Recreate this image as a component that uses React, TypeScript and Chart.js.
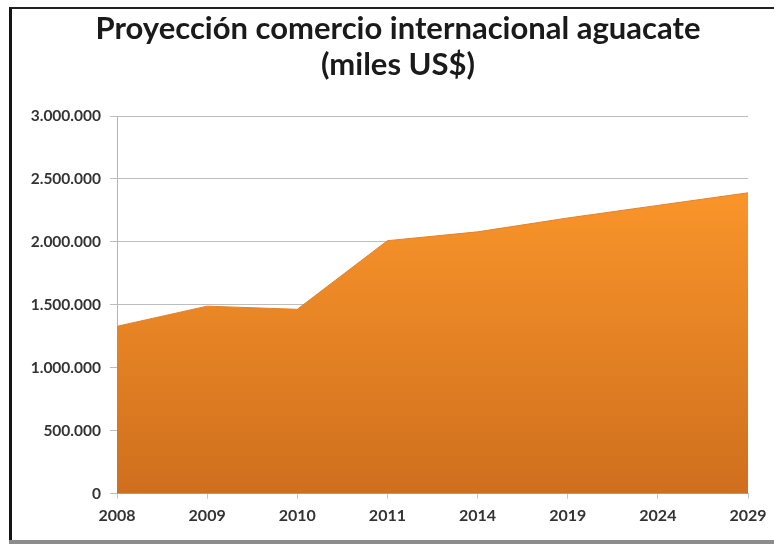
import React, { useEffect, useRef } from "react";
import { Chart, registerables } from "chart.js";

Chart.register(...registerables);

const categories = ["2008", "2009", "2010", "2011", "2014", "2019", "2024", "2029"];
const values = [1330000, 1490000, 1465000, 2010000, 2080000, 2190000, 2290000, 2390000];
const titleLines = ["Proyección comercio internacional aguacate", "(miles US$)"];
const yMax = 3000000;
const yStep = 500000;

function fmt(v: number): string {
  return String(Math.round(v)).replace(/\B(?=(\d{3})+(?!\d))/g, ".");
}

const titlePlugin = {
  id: "twoLineTitle",
  afterDraw(chart: any) {
    const ctx = chart.ctx;
    ctx.save();
    ctx.fillStyle = "#1a1a1a";
    ctx.font = "bold 31px Lato";
    ctx.textAlign = "center";
    ctx.textBaseline = "alphabetic";
    const cx = chart.width / 2 + 11;
    titleLines.forEach((t, i) => {
      ctx.fillText(t, cx, 39 + i * 36);
    });
    ctx.restore();
  },
};

export default function App() {
  const ref = useRef<HTMLCanvasElement | null>(null);
  useEffect(() => {
    document.body.style.margin = "0";
    const ctx = ref.current!.getContext("2d")!;
    const chart = new Chart(ctx, {
      type: "line",
      data: {
        labels: categories,
        datasets: [
          {
            data: values,
            fill: "origin",
            tension: 0,
            pointRadius: 0,
            borderWidth: 1,
            borderColor: "#E5822A",
            backgroundColor: (c: any) => {
              const area = c.chart.chartArea;
              if (!area) return "#F0882A";
              const g = c.chart.ctx.createLinearGradient(0, area.top + 75, 0, area.bottom);
              g.addColorStop(0, "#FA952A");
              g.addColorStop(1, "#CF6F1E");
              return g;
            },
          },
        ],
      },
      plugins: [titlePlugin],
      options: {
        responsive: false,
        animation: false,
        layout: { padding: { top: 116, left: 0, right: 26, bottom: 12 } },
        plugins: {
          legend: { display: false },
          tooltip: { enabled: false },
          title: { display: false },
        },
        scales: {
          x: {
            offset: false,
            grid: {
              display: true,
              drawOnChartArea: false,
              drawTicks: true,
              tickLength: 5,
              color: "#c8c8c8",
            },
            border: { display: true, color: "#b5b5b5" },
            ticks: {
              color: "#333333",
              font: { family: "Lato", size: 16, weight: "bold" },
              padding: 7,
              maxRotation: 0,
            },
          },
          y: {
            min: 0,
            max: yMax,
            afterFit: (s: any) => {
              s.width = 117;
            },
            grid: { color: "#bdbdbd", tickLength: 7 },
            border: { display: true, color: "#b5b5b5" },
            ticks: {
              stepSize: yStep,
              color: "#333333",
              font: { family: "Lato", size: 15.5, weight: "bold" },
              padding: 9,
              callback: (v: any) => fmt(Number(v)),
            },
          },
        },
      },
    });
    return () => chart.destroy();
  }, []);
  return (
    <div style={{ position: "absolute", left: 0, top: 0, width: 774, height: 544, background: "#fff" }}>
      <canvas ref={ref} width={774} height={544} style={{ position: "absolute", left: 0, top: 0 }} />
      <div
        style={{
          position: "absolute",
          left: 9,
          top: 7,
          width: 765,
          height: 533,
          borderLeft: "3px solid #151515",
          borderTop: "2px solid #222",
          boxSizing: "border-box",
          pointerEvents: "none",
        }}
      />
      <div
        style={{
          position: "absolute",
          left: 9,
          top: 540,
          width: 765,
          height: 4,
          background: "#8c8c8c",
          pointerEvents: "none",
        }}
      />
    </div>
  );
}
